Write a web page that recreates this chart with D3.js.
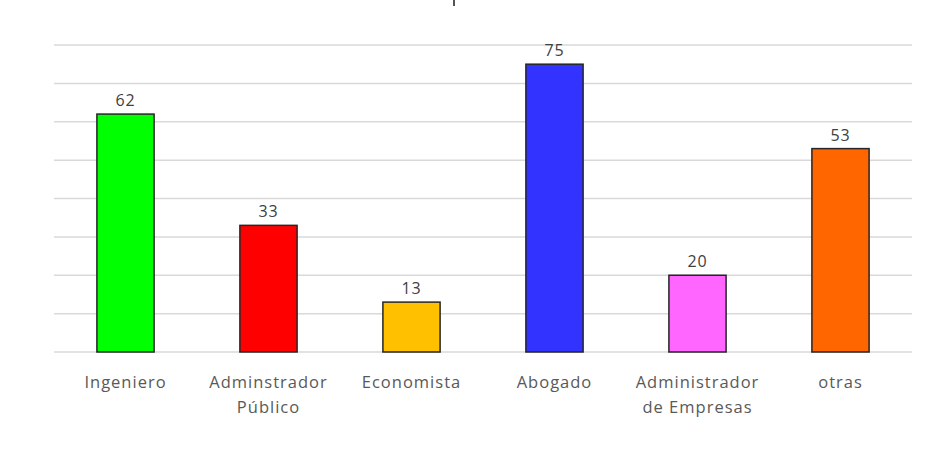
<!DOCTYPE html>
<html>
<head>
<meta charset="utf-8">
<script src="https://cdn.jsdelivr.net/npm/d3@7"></script>
<style>
  html, body { margin: 0; padding: 0; background: #fff; }
  svg { display: block; }
</style>
</head>
<body>
<svg id="chart" width="940" height="468"></svg>
<script>
// Profesiones: número de personas por categoría
const categories = [
  ["Ingeniero"],
  ["Adminstrador", "Público"],
  ["Economista"],
  ["Abogado"],
  ["Administrador", "de Empresas"],
  ["otras"]
];
const values = [62, 33, 13, 75, 20, 53];
const colors = ["#00FF00", "#FF0000", "#FFC000", "#3333FF", "#FF66FF", "#FF6600"];
const yTicks = [0, 10, 20, 30, 40, 50, 60, 70, 80];

const svg = d3.select("#chart");
const margin = { left: 54, right: 28, top: 45, bottom: 116 };
const W = 940, H = 468;

const keys = categories.map((c, i) => i);
const x = d3.scaleBand()
  .domain(keys)
  .range([margin.left, W - margin.right])
  .paddingInner(0.6)
  .paddingOuter(0.3);

const y = d3.scaleLinear()
  .domain([0, 80])
  .range([H - margin.bottom, margin.top]);

// fragment of the title line at the top edge
svg.append("line")
  .attr("x1", 454).attr("x2", 454)
  .attr("y1", 0).attr("y2", 6)
  .attr("stroke", "#555").attr("stroke-width", 2);

// horizontal gridlines
svg.append("g")
  .selectAll("line")
  .data(yTicks)
  .join("line")
  .attr("x1", margin.left)
  .attr("x2", W - margin.right)
  .attr("y1", d => y(d))
  .attr("y2", d => y(d))
  .attr("stroke", "#d9d9d9")
  .attr("stroke-width", 1.5);

// bars
svg.append("g")
  .selectAll("rect")
  .data(values)
  .join("rect")
  .attr("x", (d, i) => x(i))
  .attr("y", d => y(d))
  .attr("width", x.bandwidth())
  .attr("height", d => y(0) - y(d))
  .attr("fill", (d, i) => colors[i])
  .attr("stroke", "#262626")
  .attr("stroke-width", 1.5);

// value labels
svg.append("g")
  .selectAll("text")
  .data(values)
  .join("text")
  .attr("x", (d, i) => x(i) + x.bandwidth() / 2)
  .attr("y", d => y(d) - 8)
  .attr("text-anchor", "middle")
  .attr("font-family", "'Open Sans', sans-serif")
  .attr("font-size", 16)
  .attr("letter-spacing", 0.8)
  .attr("fill", "#404040")
  .text(d => d);

// category labels
const lab = svg.append("g")
  .selectAll("text")
  .data(categories)
  .join("text")
  .attr("x", (d, i) => x(i) + x.bandwidth() / 2)
  .attr("y", y(0) + 36)
  .attr("text-anchor", "middle")
  .attr("font-family", "'Open Sans', sans-serif")
  .attr("font-size", 16.5)
  .attr("letter-spacing", 1)
  .attr("fill", "#595959");

lab.selectAll("tspan")
  .data(d => d)
  .join("tspan")
  .attr("x", function () { return d3.select(this.parentNode).attr("x"); })
  .attr("dy", (d, j) => j === 0 ? 0 : 25)
  .text(d => d);
</script>
</body>
</html>
